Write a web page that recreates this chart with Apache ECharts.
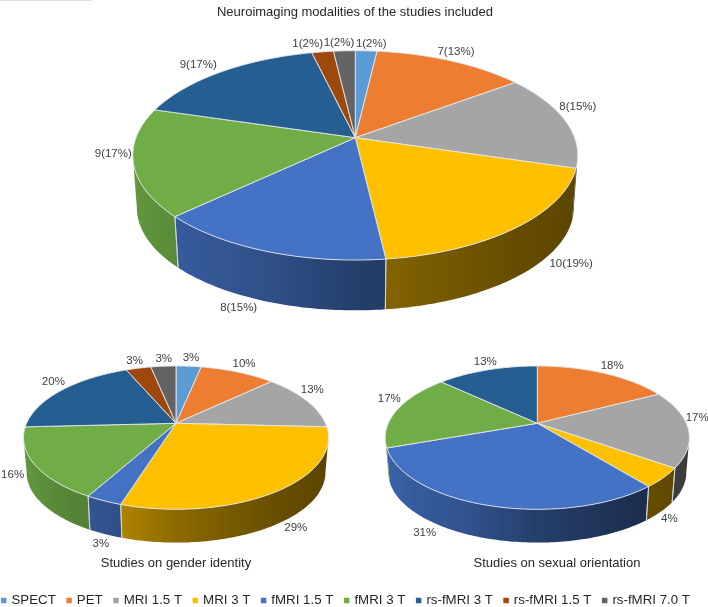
<!DOCTYPE html>
<html>
<head>
<meta charset="utf-8">
<style>html,body{margin:0;padding:0;background:#fff}#c{width:708px;height:607px}</style>
<script src="https://cdn.jsdelivr.net/npm/echarts@6/dist/echarts.min.js"></script>
</head>
<body>
<div id="c"></div>
<script>
// ---- data ----
const categories = ['SPECT','PET','MRI 1.5 T','MRI 3 T','fMRI 1.5 T','fMRI 3 T','rs-fMRI 3 T','rs-fMRI 1.5 T','rs-fMRI 7.0 T'];
const colors = ['#5B9BD5','#ED7D31','#A5A5A5','#FFC000','#4472C4','#70AD47','#255E91','#9E480E','#636363'];
const allStudies = [1,7,8,10,8,9,9,1,1];
const genderIdentity = [1,3,4,9,1,5,6,1,1];
const sexualOrientation = [0,4,4,1,7,4,3,0,0];
const allLabels = ['1(2%)','7(13%)','8(15%)','10(19%)','8(15%)','9(17%)','9(17%)','1(2%)','1(2%)'];
const genderLabels = ['3%','10%','13%','29%','3%','16%','20%','3%','3%'];
const orientationLabels = ['','18%','17%','4%','31%','17%','13%','',''];
const titles = ['Neuroimaging modalities of the studies included','Studies on gender identity','Studies on sexual orientation'];

// ---- layout only ----
const allNudge = [[5,-6.5],[5,-9],[12.7,-14],[54,37],[-27.5,57],[-20,-8],[-23,-7],[-15,-7.5],[-5.4,-8]];
const genderNudge = [[2.4,-8],[6.3,-7.8],[5.3,-11],[17.7,37.4],[-2.9,43.5],[-21.6,10.9],[-8,-8.8],[-3.8,-7.5],[.3,-7.2]];
const orientationNudge = [[0,0],[8.8,-7.4],[9.2,-10.3],[6,40.7],[-62.8,27],[-7.8,-11.2],[-1.8,-7.7],[0,0],[0,0]];
const pies = [
  {values:allStudies, labels:allLabels, nudge:allNudge, cx:355.3, cy:137.7, A:219.3, B:101.7, k:0.1687, depth:52.5, s:0.982, halfW:222.5},
  {values:genderIdentity, labels:genderLabels, nudge:genderNudge, cx:176, cy:423.3, A:149.4, B:68.8, k:0.2, depth:35, s:0.98, halfW:152.5},
  {values:sexualOrientation, labels:orientationLabels, nudge:orientationNudge, cx:537.3, cy:423.3, A:149, B:68.8, k:0.2, depth:35, s:0.98, halfW:152.2}
];
const shadeStops = [[0,.87],[.1,.8],[.3,.7],[.5,.55],[.65,.48],[.85,.4],[1,.36]];

function shade(hex,f){
  const n=parseInt(hex.slice(1),16);
  const c=[(n>>16)&255,(n>>8)&255,n&255].map(v=>Math.round(v*f));
  return 'rgb('+c.join(',')+')';
}
function rim(p,t,base){
  const u=Math.sin(t), v=-Math.cos(t), d=1-p.k*v;
  const x=p.A*u/d, y=p.B*v/d;
  return base ? [p.cx+p.s*x, p.cy+p.depth+p.s*y] : [p.cx+x, p.cy+y];
}
function arc(t0,t1){
  const n=Math.max(2,Math.ceil(Math.abs(t1-t0)/(Math.PI/180)));
  const a=[]; for(let i=0;i<=n;i++) a.push(t0+(t1-t0)*i/n);
  return a;
}
function renderSlice(catIndex){
  return function(params,api){
    const value=api.value(0);
    if(!value) return null;
    const p=pies[params.dataIndex];
    const total=p.values.reduce((a,b)=>a+b,0);
    const before=p.values.slice(0,catIndex).reduce((a,b)=>a+b,0);
    const t0=before/total*2*Math.PI, t1=(before+value)/total*2*Math.PI;
    const color=colors[catIndex];
    const kids=[];
    // side wall: only the part of the rim that faces the viewer
    const vis0=Math.acos(-p.k), vis1=2*Math.PI-vis0;
    const w0=Math.max(t0,vis0), w1=Math.min(t1,vis1);
    if(w1>w0){
      const ts=arc(w0,w1);
      const pts=ts.map(t=>rim(p,t,false)).concat(ts.slice().reverse().map(t=>rim(p,t,true)));
      const grad=new echarts.graphic.LinearGradient(p.cx-p.halfW,0,p.cx+p.halfW,0,
        shadeStops.map(s=>({offset:s[0],color:shade(color,s[1])})),true);
      kids.push({type:'polygon',shape:{points:pts},style:{fill:grad,stroke:null},z2:1});
      [t0,t1].forEach(t=>{
        if(t>vis0 && t<vis1 && Math.abs(Math.sin(t))<0.9){
          kids.push({type:'polyline',shape:{points:[rim(p,t,false),rim(p,t,true)]},
            style:{stroke:'#cfd5da',lineWidth:0.9,fill:null},z2:2});
        }
      });
    }
    // top face
    const top=[[p.cx,p.cy]].concat(arc(t0,t1).map(t=>rim(p,t,false)));
    kids.push({type:'polygon',shape:{points:top},style:{fill:color,stroke:'#e4e8ec',lineWidth:0.9,lineJoin:'round'},z2:3});
    // label
    const m=rim(p,(t0+t1)/2,false), nd=p.nudge[catIndex];
    kids.push({type:'text',style:{text:p.labels[catIndex],x:m[0]+nd[0],y:m[1]+nd[1],align:'center',verticalAlign:'middle',
      font:'11.5px "Liberation Sans", Arial, sans-serif',fill:'#404040'},z2:10});
    return {type:'group',children:kids};
  };
}
const titleFont={fontFamily:'"Liberation Sans", Arial, sans-serif',fontSize:13,fontWeight:'normal',color:'#262626'};
const option={
  animation:false,
  backgroundColor:'#fff',
  color:colors,
  title:[
    {text:titles[0],left:355,top:5.5,textAlign:'center',padding:0,textStyle:titleFont},
    {text:titles[1],left:176,top:556.5,textAlign:'center',padding:0,textStyle:titleFont},
    {text:titles[2],left:557,top:556.5,textAlign:'center',padding:0,textStyle:titleFont}
  ],
  legend:{
    data:categories,left:1,top:594,width:707,padding:0,itemGap:10.5,itemWidth:5.5,itemHeight:5.5,icon:'rect',selectedMode:false,
    textStyle:{fontFamily:'"Liberation Sans", Arial, sans-serif',fontSize:13.3,color:'#262626'}
  },
  graphic:[{type:'rect',shape:{x:0,y:0,width:92,height:1},style:{fill:'#dedede'},silent:true}],
  series:categories.map((name,i)=>({
    type:'custom',name:name,coordinateSystem:'none',silent:true,
    itemStyle:{color:colors[i]},
    renderItem:renderSlice(i),
    data:pies.map(p=>[p.values[i]])
  }))
};
echarts.init(document.getElementById('c'),null,{renderer:'canvas'}).setOption(option);
</script>
</body>
</html>
